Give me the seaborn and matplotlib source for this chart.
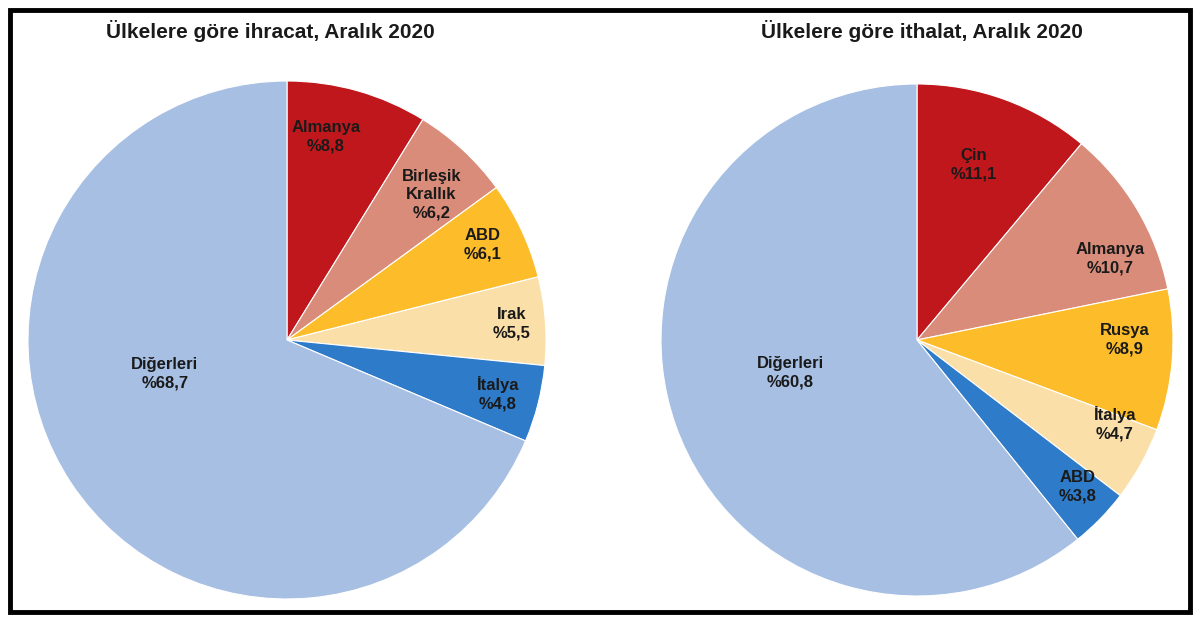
import numpy as np
import seaborn as sns
import matplotlib
matplotlib.use('Agg')
import matplotlib.pyplot as plt
from matplotlib.patches import Rectangle

# --- dados ---
export_title = 'Ülkelere göre ihracat, Aralık 2020'
export_labels = ['Almanya', 'Birleşik\nKrallık', 'ABD', 'Irak', 'İtalya', 'Diğerleri']
export_values = [8.8, 6.2, 6.1, 5.5, 4.8, 68.7]

import_title = 'Ülkelere göre ithalat, Aralık 2020'
import_labels = ['Çin', 'Almanya', 'Rusya', 'İtalya', 'ABD', 'Diğerleri']
import_values = [11.1, 10.7, 8.9, 4.7, 3.8, 60.8]

# --- estilo ---
colors = ['#C0171C', '#DA8C7A', '#FDBD2B', '#FBDFA8', '#2E7BC9', '#A7BFE2']
# raio e deslocamento angular (graus, anti-horário) de cada rótulo
export_label_r = [0.80, 0.79, 0.84, 0.87, 0.84, 0.49]
export_label_shift = [5, -2, 1, 0, 0, -18]
import_label_r = [0.72, 0.82, 0.81, 0.84, 0.85, 0.51]
import_label_shift = [2, -8, 4.5, 6, 2, -5]

sns.set_theme(style="white")
plt.rcParams['font.family'] = ['Liberation Sans', 'DejaVu Sans']

fig = plt.figure(figsize=(12, 6.22), dpi=100)


def fmt(v):
    return '%' + f'{v:.1f}'.replace('.', ',')


def draw_pie(ax, labels, values, radii, shifts):
    wedges, _ = ax.pie(values, colors=colors, startangle=90, counterclock=False,
                       radius=1, wedgeprops={'edgecolor': 'white', 'linewidth': 0.8})
    for w, lab, v, r, s in zip(wedges, labels, values, radii, shifts):
        ang = np.deg2rad((w.theta1 + w.theta2) / 2 + s)
        ax.text(r * np.cos(ang), r * np.sin(ang), f'{lab}\n{fmt(v)}',
                ha='center', va='center', fontsize=12, weight='bold',
                color='#1a1a1a', linespacing=1.3)
    ax.set_xlim(-1, 1)
    ax.set_ylim(-1, 1)
    ax.set_aspect('equal')
    ax.axis('off')


ax1 = fig.add_axes([28 / 1200, 23 / 622, 518 / 1200, 518 / 622])
draw_pie(ax1, export_labels, export_values, export_label_r, export_label_shift)

ax2 = fig.add_axes([661 / 1200, 26 / 622, 512 / 1200, 512 / 622])
draw_pie(ax2, import_labels, import_values, import_label_r, import_label_shift)

fig.text(270 / 1200, 1 - 31 / 622, export_title, ha='center', va='center',
         fontsize=15, weight='bold', color='#1a1a1a')
fig.text(922 / 1200, 1 - 31 / 622, import_title, ha='center', va='center',
         fontsize=15, weight='bold', color='#1a1a1a')

# moldura preta
fig.patches.append(Rectangle((10 / 1200, 10 / 622), 1180 / 1200, 602 / 622,
                             transform=fig.transFigure, fill=False,
                             edgecolor='black', linewidth=3.5))

fig.savefig('out.png', dpi=100)
